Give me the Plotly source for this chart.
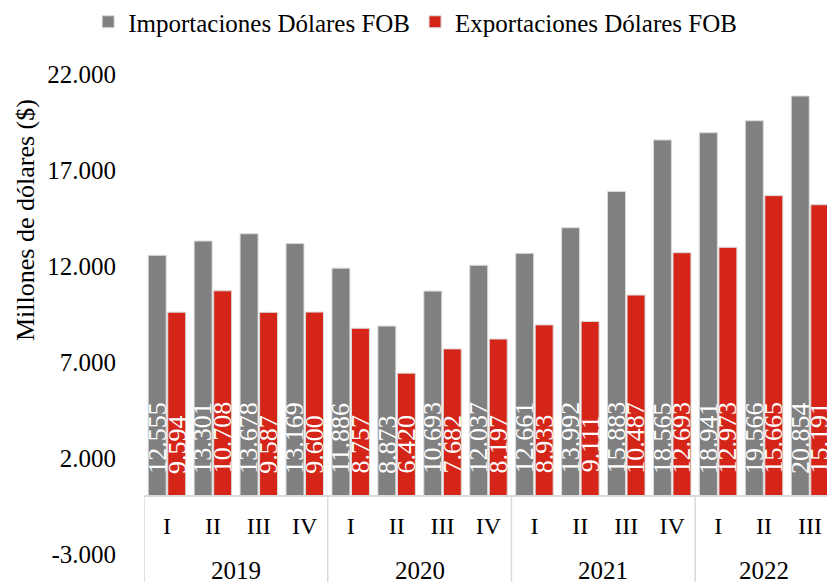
import plotly.graph_objects as go

years = ["2019"] * 4 + ["2020"] * 4 + ["2021"] * 4 + ["2022"] * 3
quarters = ["I", "II", "III", "IV"] * 3 + ["I", "II", "III"]
importaciones = [12555, 13301, 13678, 13169, 11886, 8873, 10693, 12037,
                 12661, 13992, 15883, 18565, 18941, 19566, 20854]
exportaciones = [9594, 10708, 9587, 9600, 8757, 6420, 7682, 8197,
                 8933, 9111, 10487, 12693, 12973, 15665, 15191]
y_ticks = [-3000, 2000, 7000, 12000, 17000, 22000]

def fmt(v):
    return f"{v:,}".replace(",", ".")

FONT = "Liberation Serif"
W, H = 827, 582
ML, MR, MT, MB = 144, 0, 74, 28
PH = H - MT - MB
y_min, y_max = -3000, 22000
x_range = [-0.5, 14.37]
BARGAP, GROUPGAP = 0.15, 0.08
LABEL_SIZE = 26
LABEL_GAP = 23  # px between axis and start of value label

idx = list(range(len(quarters)))
fig = go.Figure()
series = [("Importaciones Dólares FOB", importaciones, "#808080", -1),
          ("Exportaciones Dólares FOB", exportaciones, "#D52518", 1)]
for name, vals, color, _ in series:
    fig.add_trace(go.Bar(
        x=idx, y=vals, name=name,
        marker=dict(color=color, line=dict(color="#DADADA", width=1)),
        hoverinfo="y",
    ))

zero_pos = (0 - y_min) / (y_max - y_min)
px_per_cat = (W - ML - MR) / (x_range[1] - x_range[0])
slot = px_per_cat * (1 - BARGAP) / 2


def text_len(s):
    # approximate rendered length (serif digits 0.5em, period 0.25em)
    return sum(0.25 if ch == "." else 0.5 for ch in s) * LABEL_SIZE


annotations = []
# value labels (rotated, white, starting near bar base)
for name, vals, color, side in series:
    for i, v in zip(idx, vals):
        s = fmt(v)
        annotations.append(dict(
            x=i, y=0, xref="x", yref="y", text=s, textangle=-90,
            xanchor="center", yanchor="middle", xshift=side * slot / 2,
            yshift=LABEL_GAP + text_len(s) / 2, showarrow=False, borderpad=0,
            font=dict(family=FONT, size=LABEL_SIZE, color="white")))

# year labels and group dividers
shapes = []
groups = []
for i, yr in enumerate(years):
    if not groups or groups[-1][0] != yr:
        groups.append([yr, i, i])
    else:
        groups[-1][2] = i
bottom_paper = -MB / PH
for yr, a, b in groups:
    annotations.append(dict(
        x=(a + b) / 2, y=-(570 - (H - MB)) / PH, xref="x", yref="paper",
        text=yr, showarrow=False, xanchor="center", yanchor="middle",
        font=dict(family=FONT, size=25, color="black")))
    shapes.append(dict(type="line", xref="x", yref="paper",
                       x0=a - 0.5, x1=a - 0.5, y0=zero_pos, y1=bottom_paper,
                       line=dict(color="#D9D9D9", width=1.5)))

annotations.append(dict(
    text="Millones de dólares ($)", textangle=-90, xref="paper", yref="paper",
    x=-(ML - 25) / (W - ML - MR), y=1 - (220 - MT) / PH, xanchor="center",
    yanchor="middle", showarrow=False, font=dict(family=FONT, size=26)))

fig.update_layout(
    width=W, height=H,
    margin=dict(l=ML, r=MR, t=MT, b=MB, autoexpand=False),
    paper_bgcolor="white", plot_bgcolor="white",
    barmode="group", bargap=BARGAP, bargroupgap=GROUPGAP,
    font=dict(family=FONT, size=24, color="black"),
    showlegend=True,
    legend=dict(orientation="h", x=0.397, xanchor="center",
                y=1 + 52 / PH, yanchor="middle",
                font=dict(family=FONT, size=25), itemwidth=30),
    xaxis=dict(anchor="free", position=zero_pos, range=x_range,
               tickvals=idx, ticktext=quarters,
               showline=True, linecolor="#D9D9D9", linewidth=1.5,
               ticks="", ticklabelstandoff=8,
               tickfont=dict(family=FONT, size=24),
               showgrid=False, zeroline=False, automargin=False),
    yaxis=dict(range=[y_min, y_max], tickvals=y_ticks,
               ticktext=[fmt(v) for v in y_ticks], showgrid=False,
               zeroline=False, showline=False, ticks="",
               ticklabelstandoff=27, tickfont=dict(family=FONT, size=25),
               automargin=False),
    annotations=annotations,
    shapes=shapes,
)

fig.write_html("out.html", config={"displayModeBar": False},
               post_script="document.body.style.margin='0';")
